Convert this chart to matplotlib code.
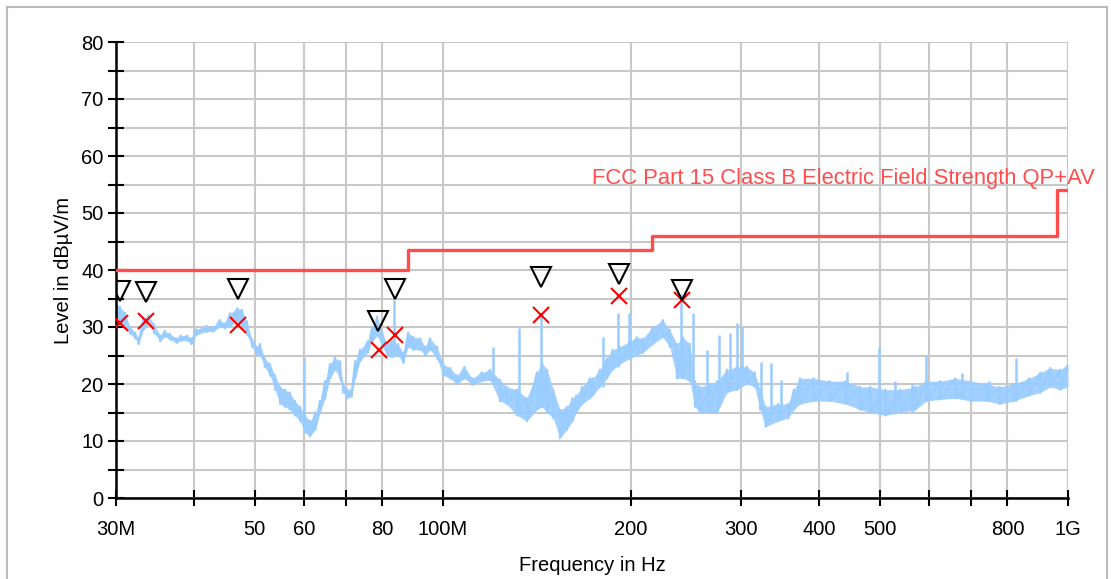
import numpy as np
import matplotlib
matplotlib.use("Agg")
from matplotlib import pyplot as plt
from matplotlib.patches import Rectangle

# Measured spectrum (MHz, dBuV/m): upper / lower edge of the noise band
freq = [30.0, 30.44, 31.0, 31.6, 32.2, 32.6, 33.2, 33.8, 34.5, 35.3,
        35.9, 36.6, 37.5, 38.1, 39.0, 39.6, 40.3, 41.9, 42.9, 44.0,
        44.8, 45.7, 46.9, 47.7, 48.6, 49.5, 50.4, 51.0, 51.9, 52.9,
        53.9, 54.9, 55.9, 56.9, 58.0, 59.1, 60.2, 61.3, 62.5, 63.6,
        64.8, 66.0, 67.2, 68.5, 69.2, 70.4, 71.4, 72.4, 73.7, 75.8,
        77.1, 78.5, 80.0, 81.5, 83.0, 84.8, 86.4, 88.0, 89.6, 92.0,
        93.7, 95.4, 97.9, 100.1, 102.7, 105.3, 108.3, 111.4, 115.5, 119.0,
        123.4, 126.5, 131.3, 136.3, 141.4, 144.1, 146.8, 150.2, 153.9, 157.9,
        161.2, 163.5, 167.0, 171.9, 173.7, 178.3, 183.0, 186.9, 191.9, 199.1,
        204.2, 208.9, 216.8, 224.9, 230.7, 236.8, 242.0, 248.4, 253.0, 257.7,
        267.4, 274.6, 284.6, 295.3, 306.3, 315.4, 321.7, 328.3, 343.8, 356.7,
        364.4, 372.8, 391.8, 415.6, 440.8, 465.0, 482.7, 510.6, 538.9, 570.4,
        592.7, 624.5, 660.6, 699.6, 741.4, 777.6, 818.8, 867.6, 902.9, 936.6,
        972.0, 1000.0]
level_hi = [34.2, 33.5, 32.5, 30.0, 29.0, 28.0, 31.5, 32.0, 30.5, 28.5,
            29.3, 28.8, 28.0, 28.5, 28.5, 28.0, 29.6, 30.2, 30.0, 31.2,
            30.6, 32.4, 33.3, 33.0, 31.0, 27.8, 26.5, 27.0, 24.5, 23.5,
            21.5, 19.5, 19.0, 18.5, 17.0, 16.0, 14.5, 13.5, 15.0, 17.0,
            20.5, 23.5, 24.6, 24.0, 20.0, 19.0, 19.0, 24.0, 26.0, 27.5,
            30.0, 31.8, 29.0, 27.0, 27.5, 27.0, 25.5, 29.0, 28.3, 28.0,
            26.5, 28.0, 26.5, 23.5, 22.8, 21.5, 23.0, 21.0, 22.0, 22.5,
            20.7, 19.5, 19.0, 17.5, 22.0, 23.7, 22.5, 19.0, 15.5, 16.0,
            17.5, 18.0, 19.5, 21.0, 21.0, 22.5, 24.5, 26.0, 26.5, 27.5,
            28.2, 28.0, 30.0, 31.2, 29.5, 27.0, 28.2, 27.0, 20.5, 19.5,
            20.0, 20.5, 22.5, 23.0, 23.0, 22.0, 19.0, 16.0, 16.5, 16.5,
            19.0, 21.0, 21.0, 20.5, 20.5, 19.5, 19.5, 19.0, 19.0, 19.5,
            20.5, 20.5, 21.0, 20.5, 20.0, 19.5, 20.0, 21.0, 22.0, 22.8,
            22.5, 23.5]
level_lo = [31.0, 30.5, 30.0, 28.8, 28.0, 27.0, 29.5, 30.5, 29.0, 27.5,
            28.3, 27.8, 27.2, 27.6, 27.6, 27.0, 28.6, 29.2, 29.2, 30.0,
            29.8, 30.2, 31.0, 30.0, 28.8, 26.5, 25.2, 25.0, 23.0, 21.5,
            19.0, 16.5, 16.0, 15.5, 14.5, 13.5, 11.5, 10.8, 12.0, 15.0,
            17.5, 21.0, 22.5, 21.0, 18.5, 17.5, 17.8, 21.0, 24.0, 25.5,
            27.5, 28.5, 26.5, 25.0, 24.7, 25.0, 23.7, 26.5, 26.0, 26.0,
            25.0, 26.0, 24.5, 21.5, 21.0, 20.0, 21.0, 19.8, 20.5, 20.7,
            17.0, 16.5, 14.5, 13.5, 15.5, 16.0, 15.0, 14.0, 10.5, 12.0,
            13.5, 15.0, 16.5, 17.5, 18.0, 19.5, 21.0, 22.5, 23.5, 24.5,
            25.0, 25.5, 27.0, 28.2, 26.5, 21.0, 21.0, 20.5, 16.0, 15.0,
            15.0, 15.0, 18.5, 19.0, 20.0, 19.5, 15.5, 12.5, 13.5, 14.0,
            15.5, 16.5, 17.0, 17.0, 16.5, 15.5, 15.0, 14.5, 15.0, 15.5,
            17.0, 17.3, 17.5, 17.0, 17.0, 16.5, 17.0, 18.0, 18.5, 19.5,
            19.0, 19.5]

# Narrow-band spikes sticking out of the band
spike_freq = [60.0, 83.6, 120.3, 132.4, 143.6, 180.4, 190.6, 198.6, 240.5, 251.4,
              264.7, 276.6, 288.1, 295.3, 301.1, 322.9, 335.2, 347.6, 443.3, 498.9,
              529.2, 563.3, 592.7, 677.5, 748.0, 826.0]
spike_top = [24.5, 34.7, 26.5, 29.8, 32.4, 28.2, 32.5, 32.5, 35.8, 32.5,
             26.0, 28.6, 29.0, 30.7, 30.0, 23.9, 23.7, 20.7, 22.1, 26.5,
             20.6, 20.2, 25.1, 21.9, 20.5, 24.6]
spike_base = [13.0, 25.0, 20.5, 15.0, 16.0, 19.5, 23.0, 24.5, 22.0, 20.0,
              16.0, 16.0, 19.0, 19.0, 20.0, 16.0, 14.0, 14.0, 17.0, 15.0,
              15.0, 15.0, 17.0, 17.5, 17.0, 17.0]

# Limit line: FCC Part 15 Class B
limit_freq = [30, 88, 216, 960, 1000]
limit_level = [40, 43.5, 46, 54, 54]

# Peak search markers and quasi-peak results
peak_freq = [30.44, 33.5, 47.0, 78.8, 83.9, 143.6, 191.3, 241.0]
peak_level = [36.3, 36.1, 36.7, 31.1, 36.7, 38.8, 39.3, 36.5]
qp_freq = [30.44, 33.5, 47.0, 79.0, 83.9, 143.6, 191.3, 241.0]
qp_level = [30.7, 31.1, 30.4, 26.0, 28.6, 32.1, 35.4, 34.7]

xtick_pos = [30, 40, 50, 60, 70, 80, 100, 200, 300, 400, 500, 600, 700, 800, 1000]
xtick_lab = ['30M', '', '50', '60', '', '80', '100M', '200', '300', '400', '500',
             '', '', '800', '1G']

plt.rcParams['font.family'] = ['Liberation Sans', 'DejaVu Sans']
fs = 14.5

fig = plt.figure(figsize=(11.11, 5.79), dpi=100)
ax = fig.add_axes([116 / 1111, 81 / 579, 952 / 1111, 456 / 579])

trace_col = '#99CCFF'
# the trace runs up and down between the band edges at each reading
zig_f = np.repeat(freq, 2)
zig_db = np.column_stack([level_hi, level_lo]).ravel()
ax.fill_between(freq, level_lo, level_hi, color=trace_col, lw=0, alpha=0.9, zorder=2)
ax.plot(zig_f, zig_db, color=trace_col, lw=1.6, zorder=2)
ax.vlines(spike_freq, spike_base, spike_top, color=trace_col, lw=1.8, zorder=2)

ax.plot(limit_freq, limit_level, drawstyle='steps-post', color='#FF4D4D', lw=2.4, zorder=3)
ax.text(1095 / 1111, 1 - 178 / 579, 'FCC Part 15 Class B Electric Field Strength QP+AV',
        transform=fig.transFigure, ha='right', va='center', color='#FF4D4D', fontsize=15.8)

ax.plot(peak_freq, peak_level, 'v', ms=14, mfc='none', mec='black', mew=1.5, zorder=5)
ax.plot(qp_freq, qp_level, 'x', ms=12, color='#FF0000', mew=1.5, zorder=4)

ax.set_xscale('log')
ax.set_xlim(30, 1000)
ax.set_ylim(0, 80)
ax.set_xticks(xtick_pos)
ax.set_xticklabels(xtick_lab, fontsize=fs)
ax.xaxis.set_minor_locator(matplotlib.ticker.NullLocator())
ax.set_yticks(np.arange(0, 81, 10))
ax.set_yticks(np.arange(5, 80, 10), minor=True)
ax.tick_params(axis='y', labelsize=fs)

ax.grid(True, which='both', color='#C8C8C8', lw=1.5, zorder=0)
ax.set_axisbelow(True)
ax.tick_params(which='both', direction='inout', length=12, width=1.5, color='black', pad=3)
ax.tick_params(axis='x', pad=10)
for s in ['top', 'right']:
    ax.spines[s].set_visible(False)
for s in ['left', 'bottom']:
    ax.spines[s].set_linewidth(1.8)

ax.set_xlabel('Frequency in Hz', fontsize=fs, labelpad=12)
ax.set_ylabel('Level in dBµV/m', fontsize=fs, labelpad=6)

fig.patches.append(Rectangle((7 / 1111, -0.01), 1100 / 1111, 572 / 579 + 0.01,
                             transform=fig.transFigure, fill=False,
                             edgecolor='#BBBBBB', lw=1.5))

fig.savefig('out.png', dpi=100)
